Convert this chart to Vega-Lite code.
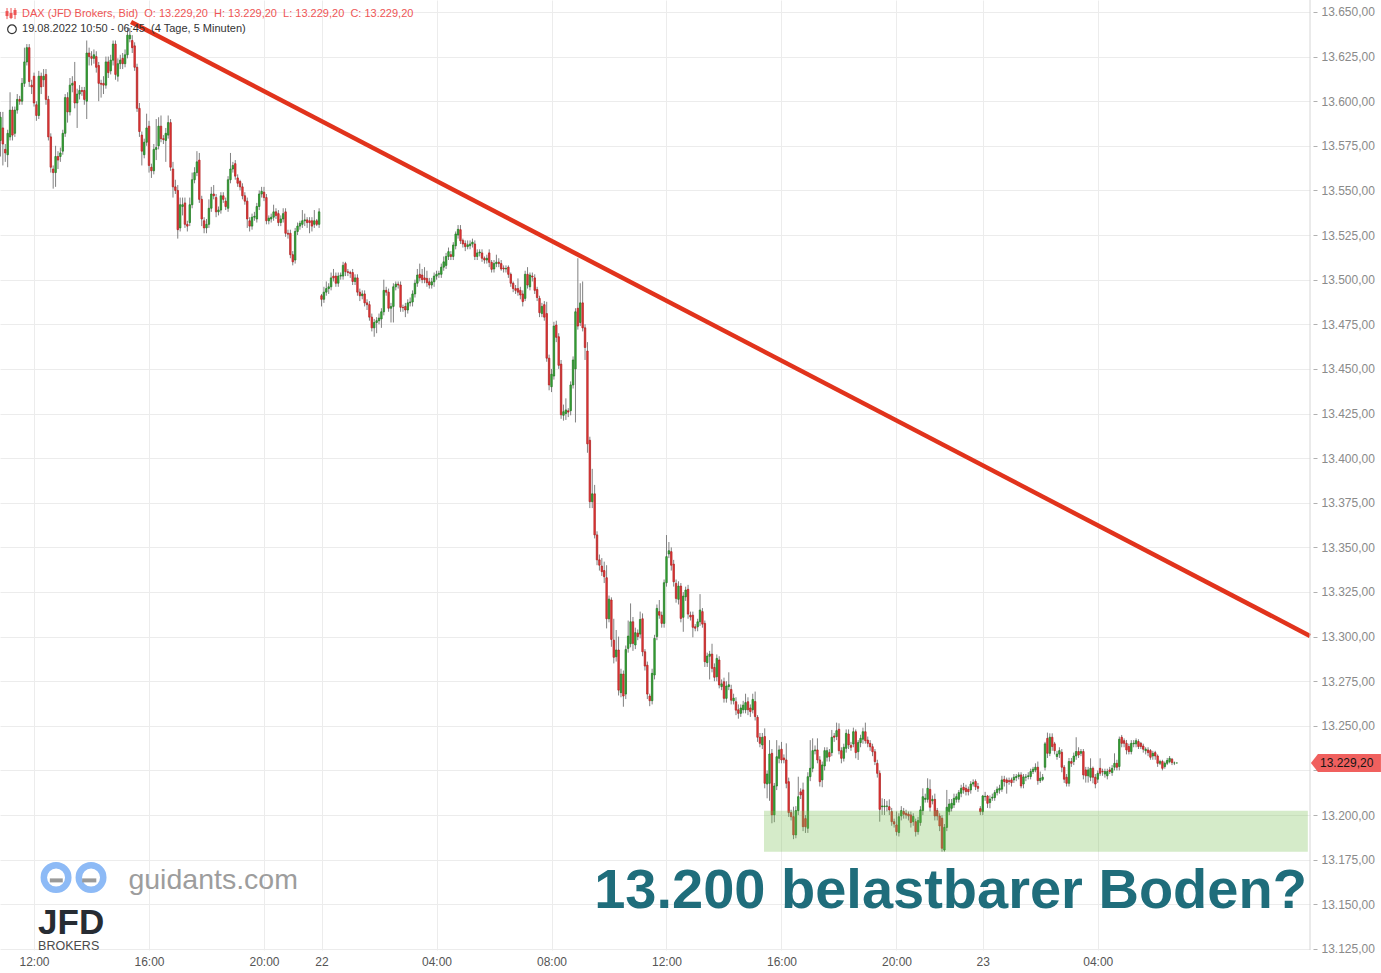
{
"$schema": "https://vega.github.io/schema/vega-lite/v6.json",
"width": 1310, "height": 950,
"autosize": {"type": "none"},
"padding": {"left": 0, "top": 0, "right": 71, "bottom": 23},
"background": "white",
"config": {"view": {"stroke": null}, "font": "Liberation Sans", "scale": {"continuousPadding": 0}},
"data": {"values": [
{"i":0,"o":13578,"h":13594,"l":13569,"c":13591},
{"i":1,"o":13585,"h":13594,"l":13564,"c":13576},
{"i":2,"o":13573,"h":13576,"l":13566,"c":13571},
{"i":3,"o":13570,"h":13584,"l":13563,"c":13582},
{"i":4,"o":13580,"h":13605,"l":13578,"c":13595},
{"i":5,"o":13595,"h":13597,"l":13578,"c":13581},
{"i":6,"o":13582,"h":13597,"l":13580,"c":13595},
{"i":7,"o":13595,"h":13604,"l":13593,"c":13601},
{"i":8,"o":13601,"h":13603,"l":13598,"c":13600},
{"i":9,"o":13600,"h":13613,"l":13598,"c":13610},
{"i":10,"o":13610,"h":13630,"l":13608,"c":13622},
{"i":11,"o":13622,"h":13632,"l":13620,"c":13630},
{"i":12,"o":13630,"h":13632,"l":13608,"c":13611},
{"i":13,"o":13609,"h":13612,"l":13604,"c":13608},
{"i":14,"o":13614,"h":13616,"l":13597,"c":13599},
{"i":15,"o":13598,"h":13600,"l":13589,"c":13592},
{"i":16,"o":13592,"h":13617,"l":13590,"c":13614},
{"i":17,"o":13614,"h":13616,"l":13604,"c":13608},
{"i":18,"o":13612,"h":13618,"l":13608,"c":13614},
{"i":19,"o":13615,"h":13618,"l":13598,"c":13601},
{"i":20,"o":13601,"h":13603,"l":13578,"c":13580},
{"i":21,"o":13580,"h":13582,"l":13560,"c":13563},
{"i":22,"o":13562,"h":13564,"l":13551,"c":13560},
{"i":23,"o":13560,"h":13575,"l":13552,"c":13569},
{"i":24,"o":13569,"h":13572,"l":13562,"c":13567},
{"i":25,"o":13569,"h":13574,"l":13566,"c":13571},
{"i":26,"o":13572,"h":13584,"l":13570,"c":13582},
{"i":27,"o":13582,"h":13604,"l":13580,"c":13602},
{"i":28,"o":13602,"h":13605,"l":13588,"c":13594},
{"i":29,"o":13594,"h":13613,"l":13592,"c":13609},
{"i":30,"o":13609,"h":13614,"l":13605,"c":13610},
{"i":31,"o":13611,"h":13622,"l":13596,"c":13599},
{"i":32,"o":13599,"h":13607,"l":13585,"c":13604},
{"i":33,"o":13604,"h":13609,"l":13601,"c":13606},
{"i":34,"o":13606,"h":13608,"l":13603,"c":13605.5},
{"i":35,"o":13606,"h":13608,"l":13598,"c":13601},
{"i":36,"o":13600,"h":13634,"l":13590,"c":13627},
{"i":37,"o":13627,"h":13630,"l":13620,"c":13625},
{"i":38,"o":13625,"h":13628,"l":13620,"c":13624},
{"i":39,"o":13624,"h":13629,"l":13621,"c":13626},
{"i":40,"o":13625,"h":13628,"l":13616,"c":13619},
{"i":41,"o":13620,"h":13622,"l":13600,"c":13610},
{"i":42,"o":13610,"h":13612,"l":13602,"c":13609.5},
{"i":43,"o":13610,"h":13614,"l":13604,"c":13609},
{"i":44,"o":13609,"h":13625,"l":13607,"c":13622},
{"i":45,"o":13622,"h":13625,"l":13613,"c":13616},
{"i":46,"o":13617,"h":13626,"l":13615,"c":13623},
{"i":47,"o":13623,"h":13634,"l":13620,"c":13632},
{"i":48,"o":13632,"h":13634,"l":13612,"c":13615},
{"i":49,"o":13614,"h":13624,"l":13611,"c":13621},
{"i":50,"o":13621,"h":13626,"l":13618,"c":13623},
{"i":51,"o":13624,"h":13627,"l":13618,"c":13621},
{"i":52,"o":13621,"h":13629,"l":13619,"c":13626},
{"i":53,"o":13626,"h":13641,"l":13624,"c":13637},
{"i":54,"o":13635,"h":13641,"l":13633,"c":13637},
{"i":55,"o":13634,"h":13637,"l":13627,"c":13630},
{"i":56,"o":13631,"h":13633,"l":13617,"c":13619},
{"i":57,"o":13619,"h":13621,"l":13594,"c":13596},
{"i":58,"o":13596,"h":13599,"l":13580,"c":13583},
{"i":59,"o":13581,"h":13583,"l":13564,"c":13572},
{"i":60,"o":13570,"h":13579,"l":13568,"c":13577},
{"i":61,"o":13577,"h":13593,"l":13575,"c":13585},
{"i":62,"o":13586,"h":13589,"l":13560,"c":13564},
{"i":63,"o":13563,"h":13565,"l":13557,"c":13561},
{"i":64,"o":13561,"h":13576,"l":13559,"c":13573},
{"i":65,"o":13573,"h":13590,"l":13567,"c":13574},
{"i":66,"o":13575,"h":13591,"l":13573,"c":13586},
{"i":67,"o":13586,"h":13592,"l":13577,"c":13579},
{"i":68,"o":13579,"h":13581,"l":13576,"c":13578.5},
{"i":69,"o":13578,"h":13585,"l":13566,"c":13582},
{"i":70,"o":13581,"h":13592,"l":13579,"c":13588},
{"i":71,"o":13588,"h":13590,"l":13561,"c":13563},
{"i":72,"o":13562,"h":13566,"l":13546,"c":13552},
{"i":73,"o":13552,"h":13556,"l":13548,"c":13550},
{"i":74,"o":13550,"h":13553,"l":13523,"c":13528},
{"i":75,"o":13529,"h":13546,"l":13527,"c":13542},
{"i":76,"o":13541,"h":13546,"l":13536,"c":13542},
{"i":77,"o":13543,"h":13546,"l":13529,"c":13531},
{"i":78,"o":13531,"h":13533,"l":13527,"c":13530},
{"i":79,"o":13532,"h":13546,"l":13530,"c":13542},
{"i":80,"o":13542,"h":13560,"l":13540,"c":13556},
{"i":81,"o":13556,"h":13563,"l":13554,"c":13560},
{"i":82,"o":13560,"h":13572,"l":13558,"c":13566},
{"i":83,"o":13567,"h":13571,"l":13543,"c":13545},
{"i":84,"o":13545,"h":13547,"l":13530,"c":13534},
{"i":85,"o":13533,"h":13535,"l":13526,"c":13529},
{"i":86,"o":13529,"h":13534,"l":13526,"c":13531},
{"i":87,"o":13531,"h":13545,"l":13529,"c":13540},
{"i":88,"o":13540,"h":13552,"l":13538,"c":13548},
{"i":89,"o":13548,"h":13553,"l":13545,"c":13547},
{"i":90,"o":13546,"h":13548,"l":13535,"c":13538},
{"i":91,"o":13538,"h":13541,"l":13536,"c":13539},
{"i":92,"o":13539,"h":13549,"l":13537,"c":13547},
{"i":93,"o":13547,"h":13549,"l":13543,"c":13545},
{"i":94,"o":13544,"h":13546,"l":13539,"c":13541},
{"i":95,"o":13540,"h":13558,"l":13538,"c":13556},
{"i":96,"o":13556,"h":13571,"l":13554,"c":13562},
{"i":97,"o":13562,"h":13566,"l":13560,"c":13564},
{"i":98,"o":13565,"h":13567,"l":13556,"c":13558},
{"i":99,"o":13557,"h":13559,"l":13552,"c":13554},
{"i":100,"o":13555,"h":13556,"l":13550,"c":13552},
{"i":101,"o":13552,"h":13554,"l":13545,"c":13547},
{"i":102,"o":13547,"h":13549,"l":13542,"c":13544},
{"i":103,"o":13544,"h":13546,"l":13529,"c":13534},
{"i":104,"o":13533,"h":13535,"l":13527,"c":13530},
{"i":105,"o":13530,"h":13537,"l":13528,"c":13535},
{"i":106,"o":13535,"h":13538,"l":13533,"c":13535.5},
{"i":107,"o":13534,"h":13543,"l":13532,"c":13541},
{"i":108,"o":13541,"h":13550,"l":13539,"c":13548},
{"i":109,"o":13548,"h":13552,"l":13546,"c":13549.5},
{"i":110,"o":13549,"h":13552,"l":13544,"c":13546},
{"i":111,"o":13546,"h":13548,"l":13531,"c":13533},
{"i":112,"o":13533,"h":13536,"l":13531,"c":13534.5},
{"i":113,"o":13534,"h":13537,"l":13532,"c":13535},
{"i":114,"o":13535,"h":13542,"l":13533,"c":13538},
{"i":115,"o":13538,"h":13540,"l":13534,"c":13536},
{"i":116,"o":13537,"h":13539,"l":13530,"c":13532},
{"i":117,"o":13532,"h":13536,"l":13530,"c":13534},
{"i":118,"o":13534,"h":13540,"l":13532,"c":13537},
{"i":119,"o":13538,"h":13540,"l":13524,"c":13526},
{"i":120,"o":13526,"h":13528,"l":13523,"c":13525.5},
{"i":121,"o":13526,"h":13528,"l":13512,"c":13514},
{"i":122,"o":13514,"h":13516,"l":13508,"c":13510},
{"i":123,"o":13511,"h":13529,"l":13509,"c":13527},
{"i":124,"o":13527,"h":13532,"l":13525,"c":13530},
{"i":125,"o":13530,"h":13533,"l":13528,"c":13531.6},
{"i":126,"o":13531,"h":13539,"l":13529,"c":13533},
{"i":127,"o":13533,"h":13537,"l":13530,"c":13533.5},
{"i":128,"o":13533.5,"h":13535,"l":13529,"c":13532},
{"i":129,"o":13533,"h":13535,"l":13526,"c":13532},
{"i":130,"o":13533,"h":13535,"l":13527,"c":13530},
{"i":131,"o":13531,"h":13539,"l":13529,"c":13533},
{"i":132,"o":13533,"h":13534,"l":13530,"c":13531},
{"i":133,"o":13531,"h":13540,"l":13529,"c":13538},
{"i":134,"o":13491,"h":13492,"l":13485,"c":13489},
{"i":135,"o":13489,"h":13496,"l":13487,"c":13493},
{"i":136,"o":13493,"h":13499,"l":13491,"c":13495},
{"i":137,"o":13495,"h":13498,"l":13492,"c":13496},
{"i":138,"o":13496,"h":13504,"l":13494,"c":13501},
{"i":139,"o":13502,"h":13506,"l":13499,"c":13501},
{"i":140,"o":13502,"h":13504,"l":13496,"c":13498},
{"i":141,"o":13498,"h":13504,"l":13496,"c":13502},
{"i":142,"o":13502,"h":13504,"l":13500,"c":13502.5},
{"i":143,"o":13502,"h":13510,"l":13500,"c":13508},
{"i":144,"o":13509,"h":13510,"l":13502,"c":13504.5},
{"i":145,"o":13504.5,"h":13506,"l":13502,"c":13504},
{"i":146,"o":13504,"h":13505,"l":13501,"c":13503.5},
{"i":147,"o":13504,"h":13506,"l":13497,"c":13499},
{"i":148,"o":13499,"h":13503,"l":13497,"c":13501},
{"i":149,"o":13501,"h":13503,"l":13491,"c":13493},
{"i":150,"o":13493,"h":13495,"l":13488,"c":13491},
{"i":151,"o":13491,"h":13494,"l":13489,"c":13492},
{"i":152,"o":13492,"h":13494,"l":13485,"c":13487},
{"i":153,"o":13487,"h":13489,"l":13483,"c":13486},
{"i":154,"o":13486,"h":13488,"l":13477,"c":13479},
{"i":155,"o":13479,"h":13481,"l":13471,"c":13473},
{"i":156,"o":13473,"h":13478,"l":13468,"c":13476},
{"i":157,"o":13476,"h":13479,"l":13470,"c":13477},
{"i":158,"o":13477,"h":13481,"l":13475,"c":13478.5},
{"i":159,"o":13478,"h":13484,"l":13473,"c":13482},
{"i":160,"o":13482,"h":13500,"l":13480,"c":13494},
{"i":161,"o":13494,"h":13496,"l":13491,"c":13493},
{"i":162,"o":13493,"h":13495,"l":13482,"c":13484},
{"i":163,"o":13484,"h":13487,"l":13476,"c":13485},
{"i":164,"o":13485,"h":13498,"l":13476,"c":13496},
{"i":165,"o":13496,"h":13499,"l":13494,"c":13497.5},
{"i":166,"o":13497.5,"h":13499,"l":13495,"c":13497},
{"i":167,"o":13497,"h":13499,"l":13482,"c":13484.5},
{"i":168,"o":13484.5,"h":13486,"l":13482,"c":13484.3},
{"i":169,"o":13485,"h":13487,"l":13479,"c":13483},
{"i":170,"o":13483,"h":13489,"l":13481,"c":13487},
{"i":171,"o":13487,"h":13490,"l":13485,"c":13487.5},
{"i":172,"o":13487.5,"h":13494,"l":13485,"c":13492},
{"i":173,"o":13492,"h":13500,"l":13490,"c":13498},
{"i":174,"o":13498,"h":13506,"l":13496,"c":13502.6},
{"i":175,"o":13503,"h":13509,"l":13499,"c":13501},
{"i":176,"o":13502.6,"h":13506,"l":13498,"c":13500},
{"i":177,"o":13501,"h":13507,"l":13498,"c":13500},
{"i":178,"o":13500.7,"h":13505,"l":13496,"c":13498.3},
{"i":179,"o":13498.8,"h":13501,"l":13495,"c":13497},
{"i":180,"o":13497,"h":13501,"l":13495,"c":13498.8},
{"i":181,"o":13498.8,"h":13504,"l":13496,"c":13502},
{"i":182,"o":13502,"h":13505,"l":13500,"c":13503},
{"i":183,"o":13503,"h":13505,"l":13501,"c":13503.5},
{"i":184,"o":13503,"h":13509,"l":13501,"c":13507},
{"i":185,"o":13507,"h":13513,"l":13505,"c":13510},
{"i":186,"o":13508,"h":13515,"l":13506,"c":13513},
{"i":187,"o":13513,"h":13518,"l":13511,"c":13515.7},
{"i":188,"o":13514,"h":13516,"l":13511,"c":13513},
{"i":189,"o":13513,"h":13521,"l":13511,"c":13519.4},
{"i":190,"o":13519,"h":13527,"l":13517,"c":13525.6},
{"i":191,"o":13525,"h":13530.6,"l":13523,"c":13528.2},
{"i":192,"o":13528,"h":13530.6,"l":13520,"c":13521.8},
{"i":193,"o":13522,"h":13523,"l":13518,"c":13520},
{"i":194,"o":13520.3,"h":13522,"l":13516,"c":13518.5},
{"i":195,"o":13518.5,"h":13522,"l":13517,"c":13519.5},
{"i":196,"o":13519,"h":13522,"l":13517,"c":13520},
{"i":197,"o":13520,"h":13523,"l":13518,"c":13521},
{"i":198,"o":13520,"h":13522,"l":13511,"c":13513},
{"i":199,"o":13513,"h":13517,"l":13511,"c":13515},
{"i":200,"o":13515,"h":13517,"l":13513,"c":13515.5},
{"i":201,"o":13515,"h":13517,"l":13510,"c":13512},
{"i":202,"o":13512,"h":13513,"l":13509,"c":13511},
{"i":203,"o":13511,"h":13514,"l":13509,"c":13512},
{"i":204,"o":13515,"h":13517,"l":13507,"c":13509.7},
{"i":205,"o":13509.7,"h":13511,"l":13504,"c":13505.8},
{"i":206,"o":13506,"h":13511,"l":13504,"c":13509},
{"i":207,"o":13509,"h":13514,"l":13507,"c":13509.8},
{"i":208,"o":13509.8,"h":13512,"l":13507,"c":13509},
{"i":209,"o":13509,"h":13511,"l":13505,"c":13506},
{"i":210,"o":13506.5,"h":13508,"l":13504,"c":13506},
{"i":211,"o":13506,"h":13508,"l":13504,"c":13506.3},
{"i":212,"o":13507,"h":13508,"l":13501,"c":13503},
{"i":213,"o":13503,"h":13504,"l":13496,"c":13498},
{"i":214,"o":13498,"h":13499,"l":13493,"c":13495},
{"i":215,"o":13495,"h":13497,"l":13492,"c":13494},
{"i":216,"o":13495,"h":13500.7,"l":13491,"c":13493},
{"i":217,"o":13494,"h":13496,"l":13489,"c":13491.4},
{"i":218,"o":13492,"h":13494,"l":13485,"c":13487.7},
{"i":219,"o":13489.5,"h":13505,"l":13488,"c":13503},
{"i":220,"o":13503,"h":13507,"l":13495,"c":13497},
{"i":221,"o":13496,"h":13504,"l":13494,"c":13502.6},
{"i":222,"o":13502,"h":13504,"l":13499,"c":13501.5},
{"i":223,"o":13501,"h":13503,"l":13492,"c":13494},
{"i":224,"o":13494.5,"h":13496,"l":13488,"c":13490},
{"i":225,"o":13489.5,"h":13491,"l":13479,"c":13481.5},
{"i":226,"o":13481,"h":13487,"l":13479,"c":13485},
{"i":227,"o":13486,"h":13488,"l":13477,"c":13479},
{"i":228,"o":13481,"h":13487.6,"l":13454,"c":13456},
{"i":229,"o":13456,"h":13458,"l":13438,"c":13441},
{"i":230,"o":13440,"h":13450,"l":13437,"c":13447},
{"i":231,"o":13446,"h":13476.4,"l":13444,"c":13474},
{"i":232,"o":13474.6,"h":13477,"l":13465,"c":13467.7},
{"i":233,"o":13468,"h":13470,"l":13450,"c":13452},
{"i":234,"o":13452.7,"h":13455,"l":13422,"c":13424.3},
{"i":235,"o":13424,"h":13430,"l":13421,"c":13426},
{"i":236,"o":13425,"h":13433.5,"l":13421.4,"c":13427},
{"i":237,"o":13426.5,"h":13428,"l":13423,"c":13425.8},
{"i":238,"o":13426.6,"h":13443,"l":13424,"c":13441},
{"i":239,"o":13441,"h":13457,"l":13439,"c":13455},
{"i":240,"o":13450,"h":13484,"l":13420,"c":13482},
{"i":241,"o":13484,"h":13512,"l":13472,"c":13474},
{"i":242,"o":13476,"h":13498,"l":13474,"c":13487},
{"i":243,"o":13487,"h":13499,"l":13471,"c":13473},
{"i":244,"o":13473,"h":13475,"l":13455,"c":13462},
{"i":245,"o":13460,"h":13465,"l":13403,"c":13408},
{"i":246,"o":13410,"h":13412,"l":13372,"c":13375.6},
{"i":247,"o":13375.6,"h":13394,"l":13372,"c":13380},
{"i":248,"o":13380,"h":13385,"l":13355,"c":13357},
{"i":249,"o":13357,"h":13359,"l":13340,"c":13343},
{"i":250,"o":13343,"h":13346,"l":13337,"c":13340},
{"i":251,"o":13339.5,"h":13344,"l":13334,"c":13336.4},
{"i":252,"o":13337,"h":13342,"l":13330,"c":13333.6},
{"i":253,"o":13333,"h":13340,"l":13304.6,"c":13310},
{"i":254,"o":13310,"h":13323,"l":13308,"c":13321},
{"i":255,"o":13320.5,"h":13322,"l":13294.3,"c":13298.4},
{"i":256,"o":13298,"h":13310,"l":13285,"c":13288.4},
{"i":257,"o":13288.7,"h":13303.7,"l":13286,"c":13292.5},
{"i":258,"o":13292.5,"h":13300,"l":13267,"c":13270},
{"i":259,"o":13268.6,"h":13282,"l":13266,"c":13279},
{"i":260,"o":13279,"h":13281,"l":13260.7,"c":13266.7},
{"i":261,"o":13267.8,"h":13295,"l":13265,"c":13292.8},
{"i":262,"o":13293.4,"h":13309,"l":13291,"c":13300.3},
{"i":263,"o":13296,"h":13318.6,"l":13294,"c":13308.3},
{"i":264,"o":13308.3,"h":13311,"l":13292,"c":13296.2},
{"i":265,"o":13295.3,"h":13305,"l":13293,"c":13302.2},
{"i":266,"o":13302,"h":13304,"l":13298,"c":13300},
{"i":267,"o":13301.4,"h":13314,"l":13299,"c":13309.6},
{"i":268,"o":13310,"h":13313,"l":13289,"c":13291.5},
{"i":269,"o":13291.5,"h":13293,"l":13281,"c":13283.5},
{"i":270,"o":13284,"h":13286,"l":13265,"c":13267.8},
{"i":271,"o":13266.7,"h":13268,"l":13261,"c":13264.1},
{"i":272,"o":13264.1,"h":13282,"l":13262,"c":13279.4},
{"i":273,"o":13278.5,"h":13301,"l":13276,"c":13299},
{"i":274,"o":13300,"h":13318,"l":13298,"c":13315.8},
{"i":275,"o":13314,"h":13320.5,"l":13310,"c":13312},
{"i":276,"o":13312,"h":13314,"l":13305,"c":13307.4},
{"i":277,"o":13307.4,"h":13332,"l":13305,"c":13330.2},
{"i":278,"o":13330.2,"h":13356.9,"l":13328,"c":13344.8},
{"i":279,"o":13346.3,"h":13353,"l":13344,"c":13348.1},
{"i":280,"o":13347.6,"h":13350,"l":13337,"c":13340},
{"i":281,"o":13340.6,"h":13343,"l":13328,"c":13330.7},
{"i":282,"o":13329.8,"h":13332,"l":13319,"c":13321.4},
{"i":283,"o":13320.9,"h":13331,"l":13318,"c":13328.3},
{"i":284,"o":13328.3,"h":13330,"l":13308,"c":13310.2},
{"i":285,"o":13310.8,"h":13325,"l":13302.7,"c":13322.7},
{"i":286,"o":13322.3,"h":13328,"l":13320,"c":13326.1},
{"i":287,"o":13326.5,"h":13329,"l":13310,"c":13312.6},
{"i":288,"o":13312,"h":13314,"l":13309,"c":13311},
{"i":289,"o":13312,"h":13314,"l":13299.6,"c":13305.2},
{"i":290,"o":13305.5,"h":13307,"l":13303,"c":13304.7},
{"i":291,"o":13305.5,"h":13310,"l":13303,"c":13308.3},
{"i":292,"o":13308.3,"h":13323.8,"l":13306,"c":13314.9},
{"i":293,"o":13314,"h":13316,"l":13305,"c":13307},
{"i":294,"o":13307.4,"h":13309,"l":13283,"c":13285.9},
{"i":295,"o":13285.4,"h":13291,"l":13283,"c":13289.1},
{"i":296,"o":13289,"h":13292,"l":13276,"c":13290.2},
{"i":297,"o":13290.2,"h":13296,"l":13280,"c":13282.2},
{"i":298,"o":13282.7,"h":13285,"l":13275,"c":13277.2},
{"i":299,"o":13277.5,"h":13290,"l":13275,"c":13287.8},
{"i":300,"o":13286.9,"h":13289,"l":13271,"c":13272.9},
{"i":301,"o":13272,"h":13276,"l":13270,"c":13273.5},
{"i":302,"o":13274.7,"h":13277,"l":13263,"c":13265.4},
{"i":303,"o":13265.4,"h":13275,"l":13263,"c":13272.3},
{"i":304,"o":13272,"h":13280,"l":13270,"c":13273},
{"i":305,"o":13270.4,"h":13273,"l":13262,"c":13264.4},
{"i":306,"o":13264,"h":13268,"l":13262,"c":13265.5},
{"i":307,"o":13263.5,"h":13266,"l":13256,"c":13258.8},
{"i":308,"o":13259,"h":13262,"l":13254,"c":13257},
{"i":309,"o":13257,"h":13262,"l":13255,"c":13260},
{"i":310,"o":13259,"h":13264,"l":13257,"c":13261.6},
{"i":311,"o":13259,"h":13268,"l":13257,"c":13263},
{"i":312,"o":13263.5,"h":13266,"l":13256,"c":13259},
{"i":313,"o":13260,"h":13262,"l":13255,"c":13258},
{"i":314,"o":13259,"h":13268,"l":13257,"c":13264.8},
{"i":315,"o":13263.6,"h":13269.2,"l":13253,"c":13255.2},
{"i":316,"o":13254.8,"h":13256,"l":13241,"c":13243.6},
{"i":317,"o":13243.6,"h":13246,"l":13238,"c":13240.2},
{"i":318,"o":13239.3,"h":13246,"l":13237,"c":13243.6},
{"i":319,"o":13244,"h":13248.6,"l":13215,"c":13217.8},
{"i":320,"o":13217.4,"h":13225,"l":13209.4,"c":13223},
{"i":321,"o":13217.8,"h":13242,"l":13208,"c":13234.2},
{"i":322,"o":13234.6,"h":13237,"l":13195.4,"c":13200.1},
{"i":323,"o":13200.1,"h":13218,"l":13196,"c":13216.3},
{"i":324,"o":13216.3,"h":13242,"l":13214,"c":13232.7},
{"i":325,"o":13231.8,"h":13239,"l":13229,"c":13236.5},
{"i":326,"o":13236.9,"h":13241,"l":13229,"c":13230.9},
{"i":327,"o":13232,"h":13234,"l":13229,"c":13231},
{"i":328,"o":13230.9,"h":13240.2,"l":13215,"c":13217.8},
{"i":329,"o":13218.7,"h":13221,"l":13199,"c":13201.4},
{"i":330,"o":13201.4,"h":13203,"l":13197,"c":13199.1},
{"i":331,"o":13199.1,"h":13204.7,"l":13186.5,"c":13188.9},
{"i":332,"o":13188.9,"h":13205,"l":13187,"c":13202.5},
{"i":333,"o":13202.5,"h":13221.5,"l":13200,"c":13210.3},
{"i":334,"o":13213,"h":13215,"l":13209,"c":13211.3},
{"i":335,"o":13214.1,"h":13218.2,"l":13191,"c":13193.5},
{"i":336,"o":13198,"h":13200,"l":13190,"c":13193.5},
{"i":337,"o":13192.6,"h":13224,"l":13190,"c":13221.5},
{"i":338,"o":13221.5,"h":13242,"l":13219,"c":13226.2},
{"i":339,"o":13226.2,"h":13243,"l":13224,"c":13236.1},
{"i":340,"o":13236,"h":13239,"l":13234,"c":13236.5},
{"i":341,"o":13236.5,"h":13243,"l":13229,"c":13230.9},
{"i":342,"o":13230.9,"h":13233,"l":13216,"c":13218.7},
{"i":343,"o":13219.7,"h":13230,"l":13215.6,"c":13228.1},
{"i":344,"o":13227.5,"h":13238,"l":13225,"c":13236.1},
{"i":345,"o":13232.4,"h":13238,"l":13230,"c":13236.1},
{"i":346,"o":13235,"h":13237,"l":13230,"c":13232.7},
{"i":347,"o":13235,"h":13247.7,"l":13233,"c":13243.6},
{"i":348,"o":13244.3,"h":13246,"l":13241,"c":13243.6},
{"i":349,"o":13244,"h":13251.8,"l":13242,"c":13247.3},
{"i":350,"o":13248.1,"h":13251.4,"l":13234,"c":13236.1},
{"i":351,"o":13236.1,"h":13238,"l":13229,"c":13231.8},
{"i":352,"o":13231.8,"h":13240,"l":13230,"c":13238},
{"i":353,"o":13237.4,"h":13248,"l":13235,"c":13245.8},
{"i":354,"o":13245.4,"h":13248,"l":13237,"c":13239.3},
{"i":355,"o":13239,"h":13241,"l":13236,"c":13238},
{"i":356,"o":13239.8,"h":13249,"l":13238,"c":13246.7},
{"i":357,"o":13246.7,"h":13248,"l":13231.8,"c":13235},
{"i":358,"o":13235.5,"h":13242,"l":13230.9,"c":13240.6},
{"i":359,"o":13240.6,"h":13245,"l":13238,"c":13243},
{"i":360,"o":13242.5,"h":13249,"l":13240,"c":13246.7},
{"i":361,"o":13246.7,"h":13251.8,"l":13240,"c":13241.7},
{"i":362,"o":13242,"h":13244,"l":13238,"c":13240.2},
{"i":363,"o":13240.2,"h":13242,"l":13236,"c":13238.3},
{"i":364,"o":13238.3,"h":13240,"l":13233,"c":13235.5},
{"i":365,"o":13235.5,"h":13237,"l":13228,"c":13230},
{"i":366,"o":13229,"h":13231,"l":13221,"c":13223.4},
{"i":367,"o":13223.4,"h":13225,"l":13196.3,"c":13203.2},
{"i":368,"o":13204.7,"h":13209.4,"l":13200.1,"c":13205.1},
{"i":369,"o":13204.7,"h":13209,"l":13200,"c":13205.1},
{"i":370,"o":13204.9,"h":13208,"l":13202,"c":13205.1},
{"i":371,"o":13204.7,"h":13208.8,"l":13200,"c":13202.9},
{"i":372,"o":13202,"h":13204,"l":13194,"c":13196.3},
{"i":373,"o":13196.3,"h":13198,"l":13193,"c":13195},
{"i":374,"o":13194.5,"h":13202,"l":13188.5,"c":13190.7},
{"i":375,"o":13190.2,"h":13201,"l":13188,"c":13199.1},
{"i":376,"o":13199.5,"h":13205,"l":13197,"c":13202.5},
{"i":377,"o":13202,"h":13204,"l":13198,"c":13200.5},
{"i":378,"o":13201,"h":13203,"l":13198,"c":13200},
{"i":379,"o":13200.6,"h":13202,"l":13197,"c":13199.5},
{"i":380,"o":13200.1,"h":13202,"l":13193,"c":13195.8},
{"i":381,"o":13196.3,"h":13201,"l":13194,"c":13199.3},
{"i":382,"o":13196.3,"h":13198,"l":13188,"c":13190.7},
{"i":383,"o":13190.7,"h":13199,"l":13189,"c":13196.9},
{"i":384,"o":13195.8,"h":13205,"l":13194,"c":13202.9},
{"i":385,"o":13202.5,"h":13215,"l":13200,"c":13210.3},
{"i":386,"o":13208.8,"h":13212,"l":13207,"c":13209.4},
{"i":387,"o":13208.8,"h":13220.6,"l":13207,"c":13215},
{"i":388,"o":13214.4,"h":13220,"l":13202,"c":13204.4},
{"i":389,"o":13208,"h":13211,"l":13206,"c":13208.8},
{"i":390,"o":13208.8,"h":13212,"l":13197,"c":13199.5},
{"i":391,"o":13202.5,"h":13204,"l":13197,"c":13199.5},
{"i":392,"o":13199.5,"h":13201,"l":13191,"c":13193.9},
{"i":393,"o":13198.2,"h":13200,"l":13179.5,"c":13181.4},
{"i":394,"o":13180.4,"h":13195,"l":13179.5,"c":13193.1},
{"i":395,"o":13193.1,"h":13214.1,"l":13191,"c":13204.4},
{"i":396,"o":13201.9,"h":13209,"l":13200,"c":13206.2},
{"i":397,"o":13203.8,"h":13209,"l":13202,"c":13206.6},
{"i":398,"o":13205.7,"h":13212,"l":13204,"c":13209.4},
{"i":399,"o":13208.8,"h":13212,"l":13207,"c":13210.3},
{"i":400,"o":13208.8,"h":13214,"l":13207,"c":13212.6},
{"i":401,"o":13212.2,"h":13217,"l":13210,"c":13215},
{"i":402,"o":13215.6,"h":13218,"l":13212,"c":13214.1},
{"i":403,"o":13215,"h":13217,"l":13211,"c":13213.2},
{"i":404,"o":13214.4,"h":13216,"l":13211,"c":13213.1},
{"i":405,"o":13214.1,"h":13219,"l":13212,"c":13217.4},
{"i":406,"o":13217.4,"h":13220,"l":13216,"c":13218.2},
{"i":407,"o":13218.8,"h":13220,"l":13214,"c":13215.9},
{"i":408,"o":13216,"h":13218,"l":13213,"c":13215},
{"i":409,"o":13203.6,"h":13205,"l":13200,"c":13201.9},
{"i":410,"o":13201.9,"h":13211.3,"l":13200,"c":13210.7},
{"i":411,"o":13210.3,"h":13213,"l":13208,"c":13210.5},
{"i":412,"o":13210.7,"h":13211.3,"l":13204,"c":13206.6},
{"i":413,"o":13207,"h":13211,"l":13203.8,"c":13209},
{"i":414,"o":13209.5,"h":13212,"l":13208,"c":13210},
{"i":415,"o":13209.8,"h":13214,"l":13208,"c":13212.6},
{"i":416,"o":13212.6,"h":13216,"l":13211,"c":13214.5},
{"i":417,"o":13214,"h":13217,"l":13212,"c":13215},
{"i":418,"o":13214.5,"h":13222,"l":13213,"c":13219.7},
{"i":419,"o":13220,"h":13222,"l":13216,"c":13218.8},
{"i":420,"o":13219.7,"h":13221,"l":13212,"c":13218.2},
{"i":421,"o":13219.3,"h":13221,"l":13217,"c":13218.8},
{"i":422,"o":13219.7,"h":13221,"l":13216,"c":13218.2},
{"i":423,"o":13219.7,"h":13223,"l":13218,"c":13221.2},
{"i":424,"o":13221,"h":13223,"l":13219,"c":13221.6},
{"i":425,"o":13221.6,"h":13224,"l":13220,"c":13222.5},
{"i":426,"o":13222.5,"h":13224,"l":13215,"c":13216.3},
{"i":427,"o":13217.4,"h":13223,"l":13215,"c":13221.4},
{"i":428,"o":13221.2,"h":13223,"l":13219,"c":13221.4},
{"i":429,"o":13221.6,"h":13224,"l":13220,"c":13222},
{"i":430,"o":13221.6,"h":13226,"l":13220,"c":13224.4},
{"i":431,"o":13224.4,"h":13227,"l":13223,"c":13225.7},
{"i":432,"o":13225.3,"h":13229,"l":13224,"c":13226.8},
{"i":433,"o":13226.8,"h":13230,"l":13217,"c":13219.3},
{"i":434,"o":13219.3,"h":13224.4,"l":13218,"c":13220.6},
{"i":435,"o":13220,"h":13223,"l":13219,"c":13221.2},
{"i":436,"o":13226.8,"h":13241,"l":13225,"c":13239.9},
{"i":437,"o":13243,"h":13246.2,"l":13232,"c":13234.6},
{"i":438,"o":13234.6,"h":13245.8,"l":13233,"c":13243.6},
{"i":439,"o":13243.6,"h":13245.8,"l":13236,"c":13238.4},
{"i":440,"o":13239.9,"h":13241,"l":13234,"c":13236.1},
{"i":441,"o":13232.8,"h":13236,"l":13231,"c":13234.2},
{"i":442,"o":13234.2,"h":13238,"l":13232,"c":13236.1},
{"i":443,"o":13235.2,"h":13237,"l":13224,"c":13226.8},
{"i":444,"o":13226.8,"h":13228,"l":13218,"c":13220.1},
{"i":445,"o":13221.2,"h":13223,"l":13216,"c":13217.8},
{"i":446,"o":13217.8,"h":13232,"l":13216,"c":13230},
{"i":447,"o":13230,"h":13232,"l":13227,"c":13229},
{"i":448,"o":13230,"h":13235,"l":13228,"c":13233.1},
{"i":449,"o":13233.1,"h":13243.6,"l":13231,"c":13235.6},
{"i":450,"o":13235.6,"h":13238,"l":13232,"c":13233.7},
{"i":451,"o":13234.6,"h":13237,"l":13233,"c":13235.6},
{"i":452,"o":13235.6,"h":13237,"l":13220,"c":13222.5},
{"i":453,"o":13225.3,"h":13227,"l":13218.2,"c":13222},
{"i":454,"o":13222,"h":13227,"l":13218.2,"c":13225.3},
{"i":455,"o":13221.2,"h":13231.8,"l":13219,"c":13226.2},
{"i":456,"o":13226.2,"h":13227.2,"l":13217.8,"c":13221.2},
{"i":457,"o":13221.2,"h":13223,"l":13215,"c":13217.4},
{"i":458,"o":13220.1,"h":13225,"l":13218,"c":13223.4},
{"i":459,"o":13226.2,"h":13231.8,"l":13222,"c":13223.4},
{"i":460,"o":13224.5,"h":13226,"l":13222,"c":13224.3},
{"i":461,"o":13223,"h":13226,"l":13221,"c":13224.4},
{"i":462,"o":13222,"h":13226,"l":13220,"c":13224.4},
{"i":463,"o":13225.3,"h":13227,"l":13223,"c":13224.4},
{"i":464,"o":13223.8,"h":13228,"l":13222,"c":13226.2},
{"i":465,"o":13226.8,"h":13234.6,"l":13225,"c":13229},
{"i":466,"o":13229,"h":13231,"l":13225,"c":13226.8},
{"i":467,"o":13227.2,"h":13244,"l":13225,"c":13242.5},
{"i":468,"o":13243.6,"h":13244.9,"l":13238,"c":13240.2},
{"i":469,"o":13241.7,"h":13243,"l":13238,"c":13240.2},
{"i":470,"o":13240.2,"h":13242.1,"l":13234,"c":13236.5},
{"i":471,"o":13238.4,"h":13240,"l":13234,"c":13235.6},
{"i":472,"o":13235.6,"h":13242,"l":13234,"c":13240.2},
{"i":473,"o":13239.9,"h":13242,"l":13238,"c":13240.3},
{"i":474,"o":13239.9,"h":13243,"l":13238,"c":13241.7},
{"i":475,"o":13241.2,"h":13242.5,"l":13237,"c":13238.4},
{"i":476,"o":13240.2,"h":13241,"l":13237,"c":13238.4},
{"i":477,"o":13238.7,"h":13240,"l":13235,"c":13236.9},
{"i":478,"o":13236.1,"h":13238,"l":13234,"c":13236.9},
{"i":479,"o":13236.5,"h":13238,"l":13233,"c":13235},
{"i":480,"o":13236.1,"h":13237,"l":13231,"c":13232.4},
{"i":481,"o":13233.1,"h":13236,"l":13231,"c":13234.6},
{"i":482,"o":13235,"h":13236,"l":13231,"c":13233.1},
{"i":483,"o":13233.1,"h":13234,"l":13227,"c":13229},
{"i":484,"o":13229,"h":13231,"l":13228,"c":13230},
{"i":485,"o":13230,"h":13231,"l":13225,"c":13226.2},
{"i":486,"o":13227.2,"h":13230,"l":13226,"c":13229},
{"i":487,"o":13229,"h":13232,"l":13228,"c":13230.6},
{"i":488,"o":13230,"h":13233.1,"l":13229,"c":13231.8},
{"i":489,"o":13231.3,"h":13232,"l":13228,"c":13229.4},
{"i":490,"o":13229.2,"h":13230,"l":13228,"c":13229.2},
{"i":491,"o":13229.2,"h":13229.2,"l":13229.2,"c":13229.2}
]},
"layer": [
{"mark": {"type": "rule", "color": "#808080", "strokeWidth": 1},
 "encoding": {
  "x": {"field": "i", "type": "quantitative", "title": null, "scale": {"domain": [-0.2, 546.6], "nice": false, "zero": false, "padding": 0},
   "axis": {"title": null, "values": [14,62,110,134,182,230,278,326,374,410,458],
    "labelExpr": "datum.value==14?'12:00':datum.value==62?'16:00':datum.value==110?'20:00':datum.value==134?'22':datum.value==182?'04:00':datum.value==230?'08:00':datum.value==278?'12:00':datum.value==326?'16:00':datum.value==374?'20:00':datum.value==410?'23':'04:00'",
    "grid": true, "gridColor": "#ececec", "domain": false, "ticks": false, "labelColor": "#555555", "labelFontSize": 12, "labelPadding": 6, "labelFlush": false, "labelOverlap": false}},
  "y": {"field": "l", "type": "quantitative", "title": null, "scale": {"domain": [13124.4, 13656.7], "nice": false, "zero": false, "padding": 0},
   "axis": {"title": null, "orient": "right", "values": [13125,13150,13175,13200,13225,13250,13275,13300,13325,13350,13375,13400,13425,13450,13475,13500,13525,13550,13575,13600,13625,13650],
    "labelExpr": "datum.value==13225?'':replace(replace(replace(format(datum.value, ',.2f'), ',', '_'), '.', ','), '_', '.')",
    "grid": true, "gridColor": "#ececec", "domain": false, "ticks": true, "tickSize": 4, "tickColor": "#b0b0b0", "offset": 3, "labelPadding": 4, "labelColor": "#8a8a8a", "labelFontSize": 12, "labelOverlap": false}},
  "y2": {"field": "h"}
 }},
{"mark": {"type": "bar", "orient": "vertical", "width": 1.5, "strokeWidth": 0.7},
 "encoding": {
  "x": {"field": "i", "type": "quantitative", "title": null},
  "y": {"field": "o", "type": "quantitative", "title": null},
  "y2": {"field": "c"},
  "color": {"condition": {"test": "datum.c >= datum.o", "value": "#3caa3c"}, "value": "#e83c3c"},
  "stroke": {"condition": {"test": "datum.c >= datum.o", "value": "#1f7a1f"}, "value": "#b01e1e"}
 }},
{"data": {"values": [{"i": 318.7, "i2": 545.7, "p": 13179.4, "p2": 13202.4}]},
 "mark": {"type": "rect", "color": "#78be50", "opacity": 0.31},
 "encoding": {"x": {"field": "i", "type": "quantitative", "title": null}, "x2": {"field": "i2"},
  "y": {"field": "p", "type": "quantitative", "title": null}, "y2": {"field": "p2"}}},
{"data": {"values": [{"i": 54.5, "i2": 546.6, "p": 13644.4, "p2": 13300.4}]},
 "mark": {"type": "rule", "color": "#e1331c", "strokeWidth": 4.5},
 "encoding": {"x": {"field": "i", "type": "quantitative", "title": null}, "x2": {"field": "i2"},
  "y": {"field": "p", "type": "quantitative", "title": null}, "y2": {"field": "p2"}}},
{"data": {"values": [{"i": 546.6}]},
 "mark": {"type": "rule", "color": "#d6d6d6", "strokeWidth": 1},
 "encoding": {"x": {"field": "i", "type": "quantitative", "title": null}}},
{"data": {"values": [{"i": 2.73, "p": 13652.2, "p2": 13646}, {"i": 4.4, "p": 13652.2, "p2": 13646}, {"i": 6.07, "p": 13652.2, "p2": 13646}]},
 "mark": {"type": "rule", "color": "#ee5555", "strokeWidth": 1},
 "encoding": {"x": {"field": "i", "type": "quantitative", "title": null}, "y": {"field": "p", "type": "quantitative", "title": null}, "y2": {"field": "p2"}}},
{"data": {"values": [{"i": 2.73, "p": 13650.5, "p2": 13647.7}, {"i": 4.4, "p": 13649.4, "p2": 13646.6}, {"i": 6.07, "p": 13651.1, "p2": 13648.3}]},
 "mark": {"type": "rule", "color": "#ee5555", "strokeWidth": 3},
 "encoding": {"x": {"field": "i", "type": "quantitative", "title": null}, "y": {"field": "p", "type": "quantitative", "title": null}, "y2": {"field": "p2"}}},
{"data": {"values": [{"i": 9.0, "p": 13649.1, "t": "DAX (JFD Brokers, Bid)\u00a0\u00a0O: 13.229,20\u00a0\u00a0H: 13.229,20\u00a0\u00a0L: 13.229,20\u00a0\u00a0C: 13.229,20"}]},
 "mark": {"type": "text", "align": "left", "baseline": "middle", "fontSize": 11, "color": "#ee5555"},
 "encoding": {"x": {"field": "i", "type": "quantitative", "title": null}, "y": {"field": "p", "type": "quantitative", "title": null}, "text": {"field": "t"}}},
{"data": {"values": [{"i": 9.0, "p": 13640.3, "t": "19.08.2022 10:50 - 06:45\u00a0\u00a0(4 Tage, 5 Minuten)"}]},
 "mark": {"type": "text", "align": "left", "baseline": "middle", "fontSize": 11, "color": "#333333"},
 "encoding": {"x": {"field": "i", "type": "quantitative", "title": null}, "y": {"field": "p", "type": "quantitative", "title": null}, "text": {"field": "t"}}},
{"data": {"values": [{"i": 4.8, "p": 13640.3}]},
 "mark": {"type": "point", "shape": "circle", "filled": false, "size": 75, "stroke": "#333333", "strokeWidth": 1.2, "opacity": 1},
 "encoding": {"x": {"field": "i", "type": "quantitative", "title": null}, "y": {"field": "p", "type": "quantitative", "title": null}}},
{"data": {"values": [{"i": 545.3, "p": 13148.0, "t": "13.200 belastbarer Boden?"}]},
 "mark": {"type": "text", "align": "right", "baseline": "alphabetic", "fontSize": 56, "fontWeight": "bold", "color": "#1f6d7b"},
 "encoding": {"x": {"field": "i", "type": "quantitative", "title": null}, "y": {"field": "p", "type": "quantitative", "title": null}, "text": {"field": "t"}}},
{"data": {"values": [{"i": 53.4, "p": 13158.4, "t": "guidants.com"}]},
 "mark": {"type": "text", "align": "left", "baseline": "alphabetic", "fontSize": 28.5, "color": "#9d9d9d"},
 "encoding": {"x": {"field": "i", "type": "quantitative", "title": null}, "y": {"field": "p", "type": "quantitative", "title": null}, "text": {"field": "t"}}},
{"data": {"values": [{"i": 23.2, "p": 13165.0}, {"i": 37.8, "p": 13165.0}]},
 "mark": {"type": "point", "shape": "circle", "filled": false, "size": 600, "stroke": "#8dbaf6", "strokeWidth": 6.5, "opacity": 1},
 "encoding": {"x": {"field": "i", "type": "quantitative", "title": null}, "y": {"field": "p", "type": "quantitative", "title": null}}},
{"data": {"values": [{"i": 20.6, "i2": 26.0, "p": 13163.4}, {"i": 34.1, "i2": 40.0, "p": 13163.4}]},
 "mark": {"type": "rule", "color": "#9a9a9a", "strokeWidth": 4},
 "encoding": {"x": {"field": "i", "type": "quantitative", "title": null}, "x2": {"field": "i2"}, "y": {"field": "p", "type": "quantitative", "title": null}}},
{"data": {"values": [{"i": 15.7, "p": 13133.4, "t": "JFD"}]},
 "mark": {"type": "text", "align": "left", "baseline": "alphabetic", "fontSize": 35, "fontWeight": "bold", "color": "#272c33"},
 "encoding": {"x": {"field": "i", "type": "quantitative", "title": null}, "y": {"field": "p", "type": "quantitative", "title": null}, "text": {"field": "t"}}},
{"data": {"values": [{"i": 15.7, "p": 13124.6, "t": "BROKERS"}]},
 "mark": {"type": "text", "align": "left", "baseline": "alphabetic", "fontSize": 12.5, "color": "#4a4a4a"},
 "encoding": {"x": {"field": "i", "type": "quantitative", "title": null}, "y": {"field": "p", "type": "quantitative", "title": null}, "text": {"field": "t"}}},
{"data": {"values": [{"i": 561.6, "p": 13229.2}]},
 "mark": {"type": "point", "shape": "M-1,0L-0.8,-0.257L1,-0.257L1,0.257L-0.8,0.257Z", "filled": true, "size": 4900, "color": "#f0605e", "opacity": 1, "strokeWidth": 0},
 "encoding": {"x": {"field": "i", "type": "quantitative", "title": null}, "y": {"field": "p", "type": "quantitative", "title": null}}},
{"data": {"values": [{"i": 561.9, "p": 13229.2, "t": "13.229,20"}]},
 "mark": {"type": "text", "align": "center", "baseline": "middle", "fontSize": 12, "color": "#151515"},
 "encoding": {"x": {"field": "i", "type": "quantitative", "title": null}, "y": {"field": "p", "type": "quantitative", "title": null}, "text": {"field": "t"}}}
]
}
